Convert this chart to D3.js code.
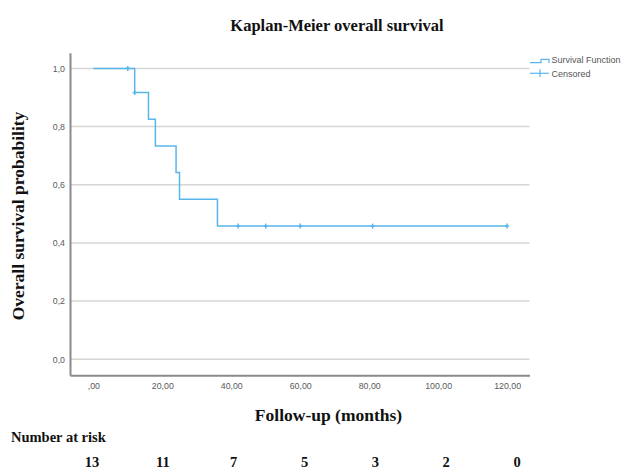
<!DOCTYPE html>
<html>
<head>
<meta charset="utf-8">
<script src="https://cdn.jsdelivr.net/npm/d3@7"></script>
<style>
  html, body { margin: 0; padding: 0; background: #fff; }
  svg { display: block; }
</style>
</head>
<body>
<svg id="chart" width="632" height="469"></svg>
<script>
// ---- data ----
const stepTimes  = [0, 12, 16, 18, 24, 25, 36, 120];           // months where survival changes (and end)
const stepValues = [1.0, 0.917, 0.825, 0.733, 0.642, 0.550, 0.458, 0.458];
const censorTimes  = [10, 12, 42, 50, 60, 81, 120];
const censorValues = [1.0, 0.917, 0.458, 0.458, 0.458, 0.458, 0.458];
const xTicks = [0, 20, 40, 60, 80, 100, 120];
const xTickLabels = [",00", "20,00", "40,00", "60,00", "80,00", "100,00", "120,00"];
const yTicks = [0, 0.2, 0.4, 0.6, 0.8, 1.0];
const yTickLabels = ["0,0", "0,2", "0,4", "0,6", "0,8", "1,0"];
const riskTimes = [0, 20, 40, 60, 80, 100, 120];
const riskCounts = [13, 11, 7, 5, 3, 2, 0];

const svg = d3.select("#chart");
const blue = "#5ab6ea";
const serif = "'Liberation Serif', 'Times New Roman', serif";
const sans = "'Liberation Sans', Arial, sans-serif";

const x = d3.scaleLinear().domain([-6.76, 126.5]).range([70, 529.5]);
const y = d3.scaleLinear().domain([-0.055, 1.054]).range([375.3, 52.7]);
// the risk table below the chart is laid out slightly wider than the plot
const xRisk = d3.scaleLinear().domain([0, 120]).range([92, 517]);

// gridlines
svg.append("g").selectAll("line").data(yTicks).join("line")
  .attr("x1", x(-6.76)).attr("x2", x(126.5))
  .attr("y1", d => y(d)).attr("y2", d => y(d))
  .attr("stroke", "#d6d6d6").attr("stroke-width", 1.5);

// axes (lines only, no tick marks)
const xAxis = d3.axisBottom(x).tickValues(xTicks).tickSize(0)
  .tickFormat((d, i) => xTickLabels[i]);
const gx = svg.append("g").attr("transform", `translate(0,${y(-0.055)})`).call(xAxis);
gx.select(".domain").attr("stroke", "#8a8a8a").attr("stroke-width", 2);
gx.selectAll("text").attr("dy", "0").attr("y", 14)
  .attr("font-family", sans).attr("font-size", 8.8).attr("fill", "#5a5a5a");

const yAxis = d3.axisLeft(y).tickValues(yTicks).tickSize(0)
  .tickFormat((d, i) => yTickLabels[i]);
const gy = svg.append("g").attr("transform", `translate(${x(-6.76)},0)`).call(yAxis);
gy.select(".domain").attr("stroke", "#8a8a8a").attr("stroke-width", 2);
gy.selectAll("text").attr("x", -5)
  .attr("font-family", sans).attr("font-size", 8.8).attr("fill", "#5a5a5a");

// survival step line
const pts = stepTimes.map((t, i) => [t, stepValues[i]]);
const line = d3.line().x(d => x(d[0])).y(d => y(d[1])).curve(d3.curveStepAfter);
svg.append("path").datum(pts).attr("d", line)
  .attr("fill", "none").attr("stroke", blue).attr("stroke-width", 1.5);

// censor marks
const cg = svg.append("g");
censorTimes.forEach((t, i) => {
  const cx = x(t), cy = y(censorValues[i]);
  cg.append("line").attr("x1", cx).attr("x2", cx).attr("y1", cy - 2.5).attr("y2", cy + 2.5)
    .attr("stroke", blue).attr("stroke-width", 1.5);
  cg.append("line").attr("x1", cx - 2).attr("x2", cx + 2).attr("y1", cy).attr("y2", cy)
    .attr("stroke", blue).attr("stroke-width", 1.5);
});

// legend
const lg = svg.append("g");
lg.append("path").attr("d", "M530,62.7 H541 V59.3 H549 V63")
  .attr("fill", "none").attr("stroke", blue).attr("stroke-width", 1.2);
lg.append("line").attr("x1", 530).attr("x2", 549).attr("y1", 73.3).attr("y2", 73.3)
  .attr("stroke", blue).attr("stroke-width", 1.2);
lg.append("line").attr("x1", 540).attr("x2", 540).attr("y1", 69.5).attr("y2", 77)
  .attr("stroke", blue).attr("stroke-width", 1.2);
lg.append("text").attr("x", 551.5).attr("y", 63.3).text("Survival Function")
  .attr("font-family", sans).attr("font-size", 9).attr("fill", "#555");
lg.append("text").attr("x", 551.5).attr("y", 76.5).text("Censored")
  .attr("font-family", sans).attr("font-size", 9).attr("fill", "#555");

// title
svg.append("text").attr("x", 337).attr("y", 31).attr("text-anchor", "middle")
  .attr("font-family", serif).attr("font-weight", "bold").attr("font-size", 16.5)
  .attr("fill", "#111").text("Kaplan-Meier overall survival");

// y axis title
svg.append("text").attr("transform", "translate(24,216) rotate(-90)")
  .attr("text-anchor", "middle")
  .attr("font-family", serif).attr("font-weight", "bold").attr("font-size", 17.5)
  .attr("fill", "#111").text("Overall survival probability");

// x axis title
svg.append("text").attr("x", 328.5).attr("y", 421).attr("text-anchor", "middle")
  .attr("font-family", serif).attr("font-weight", "bold").attr("font-size", 17.5)
  .attr("fill", "#111").text("Follow-up (months)");

// number at risk
svg.append("text").attr("x", 11).attr("y", 442)
  .attr("font-family", serif).attr("font-weight", "bold").attr("font-size", 14.5)
  .attr("fill", "#111").text("Number at risk");
svg.append("g").selectAll("text").data(riskCounts).join("text")
  .attr("x", (d, i) => xRisk(riskTimes[i])).attr("y", 466.5)
  .attr("text-anchor", "middle")
  .attr("font-family", serif).attr("font-weight", "bold").attr("font-size", 14.5)
  .attr("fill", "#111").text(d => d);
</script>
</body>
</html>
